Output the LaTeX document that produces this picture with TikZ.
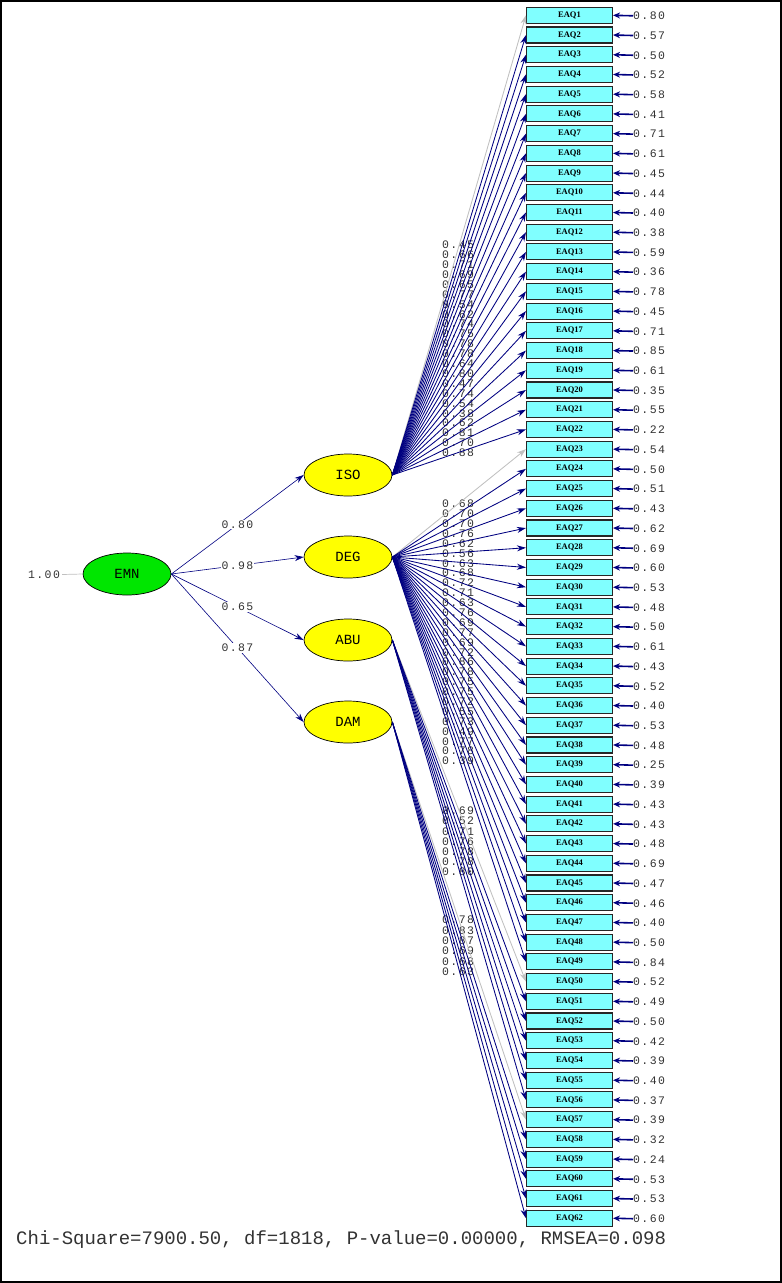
\documentclass[tikz,border=0pt]{standalone}
\usepackage{fontspec}
\setmainfont{Liberation Serif}
\newfontfamily\monofnt{Liberation Mono}
\newfontfamily\numfnt[LetterSpace=12]{Liberation Mono}
\usetikzlibrary{arrows.meta,shapes.geometric}
\definecolor{lnavy}{RGB}{0,0,128}
\definecolor{lgray}{RGB}{192,192,192}
\definecolor{lcyan}{RGB}{128,255,255}
\definecolor{lyellow}{RGB}{255,255,0}
\definecolor{lgreen}{RGB}{0,230,0}
\definecolor{ltext}{RGB}{50,50,50}
\begin{document}
\begin{tikzpicture}[x=1pt,y=-1pt,
  latent/.style={ellipse, draw=black, line width=0.7pt, minimum width=88pt, minimum height=42pt, inner sep=0pt, font=\monofnt\fontsize{14}{14}\selectfont},
  obs/.style={rectangle, draw=black!85, line width=1.1pt, fill=lcyan, minimum width=86pt, minimum height=16pt, inner sep=0pt, font=\fontsize{8.5}{8.5}\selectfont\bfseries},
  num/.style={font=\numfnt\fontsize{11.5}{11.5}\selectfont, text=ltext, inner sep=0pt, anchor=west},
  load/.style={draw=lnavy, line width=0.85pt, -{Stealth[length=9pt,width=6pt]}},
  refload/.style={draw=lgray, line width=0.85pt, -{Stealth[length=9pt,width=6pt]}},
  errarr/.style={draw=lnavy, line width=1.6pt, -{Stealth[length=7pt,width=6pt]}},
  gpath/.style={draw=lnavy, line width=0.6pt, -{Stealth[length=9pt,width=6pt]}},
]
\useasboundingbox (0,0) rectangle (782,1283);
\draw[line width=1.2pt] (1,1) rectangle (781,1282);

% observed variables and error values
\foreach \e [count=\i] in {0.80,0.57,0.50,0.52,0.58,0.41,0.71,0.61,0.45,0.44,0.40,0.38,0.59,0.36,0.78,0.45,0.71,0.85,0.61,0.35,0.55,0.22,0.54,0.50,0.51,0.43,0.62,0.69,0.60,0.53,0.48,0.50,0.61,0.43,0.52,0.40,0.53,0.48,0.25,0.39,0.43,0.43,0.48,0.69,0.47,0.46,0.40,0.50,0.84,0.52,0.49,0.50,0.42,0.39,0.40,0.37,0.39,0.32,0.24,0.53,0.53,0.60} {
  \node[obs] (b\i) at (569.5,{15.3+(\i-1)*19.72}) {EAQ\i};
  \node[num] (e\i) at (633,{15.8+(\i-1)*19.72}) {\e};
  \draw[errarr] (e\i.west) -- (b\i.east);
}

% loading labels
\foreach \v [count=\i] in {0.45,0.66,0.71,0.69,0.65,0.77,0.54,0.62,0.74,0.75,0.78,0.78,0.64,0.80,0.47,0.74,0.54,0.38,0.62,0.81,0.70,0.88}
  \node[num] (li\i) at (442,{245+(\i-1)*9.9}) {\v};
\foreach \v [count=\i] in {0.68,0.70,0.70,0.76,0.62,0.56,0.63,0.68,0.72,0.71,0.63,0.76,0.69,0.77,0.69,0.72,0.86,0.78,0.75,0.75,0.72,0.55,0.73,0.49,0.77,0.78,0.39}
  \node[num] (ld\i) at (442,{504+(\i-1)*9.885}) {\v};
\foreach \v [count=\i] in {0.69,0.52,0.71,0.76,0.78,0.78,0.80}
  \node[num] (la\i) at (442,{811+(\i-1)*10.1}) {\v};
\foreach \v [count=\i] in {0.78,0.83,0.87,0.69,0.68,0.63}
  \node[num] (lm\i) at (442,{920+(\i-1)*10.3}) {\v};

% latent variables
\node[latent, fill=lgreen] (EMN) at (127,574) {EMN};
\node[latent, fill=lyellow] (ISO) at (348,475) {ISO};
\node[latent, fill=lyellow] (DEG) at (348,557) {DEG};
\node[latent, fill=lyellow] (ABU) at (348,640) {ABU};
\node[latent, fill=lyellow] (DAM) at (348,722) {DAM};

% loadings
\draw[refload] (ISO.east) -- (b1.west);
\foreach \i in {2,...,22} \draw[load] (ISO.east) -- (b\i.west);
\draw[refload] (DEG.east) -- (b23.west);
\foreach \i in {24,...,49} \draw[load] (DEG.east) -- (b\i.west);
\draw[refload] (ABU.east) -- (b50.west);
\foreach \i in {51,...,56} \draw[load] (ABU.east) -- (b\i.west);
\draw[refload] (DAM.east) -- (b57.west);
\foreach \i in {58,...,62} \draw[load] (DAM.east) -- (b\i.west);

% second order paths
\draw[gpath] (EMN.east) -- node[num, anchor=center, fill=white, inner sep=1pt] (g1) {0.80} (ISO.west);
\draw[gpath] (EMN.east) -- node[num, anchor=center, fill=white, inner sep=1pt] (g2) {0.98} (DEG.west);
\draw[gpath] (EMN.east) -- node[num, anchor=center, fill=white, inner sep=1pt] (g3) {0.65} (ABU.west);
\draw[gpath] (EMN.east) -- node[num, anchor=center, fill=white, inner sep=1pt] (g4) {0.87} (DAM.west);

\node[num] (var) at (28,574.5) {1.00};
\draw[draw=lgray, line width=0.7pt] (var.east) ++(2,0) coordinate (vs) -- (EMN.west);

\node[anchor=west, inner sep=0pt, text=ltext, font=\monofnt\fontsize{19}{19}\selectfont] (fit) at (16,1240) {Chi-Square=7900.50, df=1818, P-value=0.00000, RMSEA=0.098};
\end{tikzpicture}
\end{document}
